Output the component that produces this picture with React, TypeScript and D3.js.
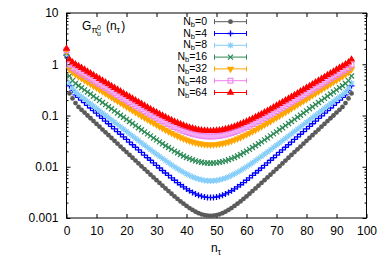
import React, { useEffect, useRef } from "react";
import * as d3 from "d3";

// n_tau index, 0..95
const nTau = d3.range(0, 96);

const nbLabels = ["0", "4", "8", "16", "32", "48", "64"];
const seriesColors = ["#5a5a5a", "#0000ff", "#87cefa", "#2e8b57", "#ffa500", "#ee82ee", "#ff0000"];
const seriesMarkers = ["circle", "plus", "star", "cross", "triDown", "squareOpen", "triUp"];

const gNb0 = [
  1.40, 0.27, 0.215, 0.175, 0.147, 0.129, 0.114, 0.100, 0.0884, 0.0779,
  0.0686, 0.0604, 0.0532, 0.0469, 0.0413, 0.0364, 0.0320, 0.0282, 0.0248, 0.0219,
  0.0193, 0.0170, 0.0150, 0.0132, 0.0116, 0.0102, 0.00902, 0.00796, 0.00702, 0.00619,
  0.00546, 0.00483, 0.00427, 0.00378, 0.00335, 0.00297, 0.00264, 0.00236, 0.00211, 0.00190,
  0.00172, 0.00156, 0.00144, 0.00133, 0.00124, 0.00118, 0.00114, 0.00111, 0.00110,
  0.00111, 0.00114, 0.00118, 0.00124, 0.00133, 0.00144, 0.00156, 0.00172, 0.00190, 0.00211,
  0.00236, 0.00264, 0.00297, 0.00335, 0.00378, 0.00427, 0.00483, 0.00546, 0.00619, 0.00702,
  0.00796, 0.00902, 0.0102, 0.0116, 0.0132, 0.0150, 0.0170, 0.0193, 0.0219, 0.0248,
  0.0282, 0.0320, 0.0364, 0.0413, 0.0469, 0.0532, 0.0604, 0.0686, 0.0779, 0.0884,
  0.100, 0.114, 0.129, 0.147, 0.175, 0.215, 0.27,
];
const gNb4 = [
  1.50, 0.38, 0.31, 0.253, 0.225, 0.200, 0.178, 0.158, 0.140, 0.125,
  0.111, 0.0984, 0.0875, 0.0778, 0.0691, 0.0614, 0.0546, 0.0485, 0.0431, 0.0383,
  0.0341, 0.0303, 0.0269, 0.0240, 0.0213, 0.0190, 0.0169, 0.0150, 0.0134, 0.0119,
  0.0106, 0.00946, 0.00845, 0.00755, 0.00676, 0.00607, 0.00545, 0.00492, 0.00445, 0.00405,
  0.00370, 0.00340, 0.00315, 0.00295, 0.00278, 0.00266, 0.00257, 0.00252, 0.00250,
  0.00252, 0.00257, 0.00266, 0.00278, 0.00295, 0.00315, 0.00340, 0.00370, 0.00405, 0.00445,
  0.00492, 0.00545, 0.00607, 0.00676, 0.00755, 0.00845, 0.00946, 0.0106, 0.0119, 0.0134,
  0.0150, 0.0169, 0.0190, 0.0213, 0.0240, 0.0269, 0.0303, 0.0341, 0.0383, 0.0431,
  0.0485, 0.0546, 0.0614, 0.0691, 0.0778, 0.0875, 0.0984, 0.111, 0.125, 0.140,
  0.158, 0.178, 0.200, 0.225, 0.253, 0.31, 0.38,
];
const gNb8 = [
  1.58, 0.43, 0.34, 0.286, 0.257, 0.232, 0.209, 0.188, 0.170, 0.153,
  0.138, 0.124, 0.112, 0.101, 0.0911, 0.0821, 0.0740, 0.0667, 0.0602, 0.0542,
  0.0489, 0.0441, 0.0398, 0.0359, 0.0324, 0.0292, 0.0264, 0.0238, 0.0215, 0.0195,
  0.0176, 0.0160, 0.0145, 0.0132, 0.0120, 0.0109, 0.00999, 0.00916, 0.00843, 0.00780,
  0.00724, 0.00677, 0.00637, 0.00603, 0.00577, 0.00556, 0.00541, 0.00533, 0.00530,
  0.00533, 0.00541, 0.00556, 0.00577, 0.00603, 0.00637, 0.00677, 0.00724, 0.00780, 0.00843,
  0.00916, 0.00999, 0.0109, 0.0120, 0.0132, 0.0145, 0.0160, 0.0176, 0.0195, 0.0215,
  0.0238, 0.0264, 0.0292, 0.0324, 0.0359, 0.0398, 0.0441, 0.0489, 0.0542, 0.0602,
  0.0667, 0.0740, 0.0821, 0.0911, 0.101, 0.112, 0.124, 0.138, 0.153, 0.170,
  0.188, 0.209, 0.232, 0.257, 0.286, 0.34, 0.43,
];
const gNb16 = [
  1.68, 0.59, 0.48, 0.421, 0.382, 0.348, 0.316, 0.288, 0.262, 0.238,
  0.216, 0.197, 0.179, 0.163, 0.148, 0.135, 0.123, 0.112, 0.101, 0.0923,
  0.0841, 0.0765, 0.0697, 0.0634, 0.0578, 0.0527, 0.0480, 0.0438, 0.0400, 0.0365,
  0.0334, 0.0306, 0.0280, 0.0257, 0.0237, 0.0218, 0.0202, 0.0187, 0.0174, 0.0162,
  0.0152, 0.0144, 0.0137, 0.0130, 0.0126, 0.0122, 0.0119, 0.0118, 0.0117,
  0.0118, 0.0119, 0.0122, 0.0126, 0.0130, 0.0137, 0.0144, 0.0152, 0.0162, 0.0174,
  0.0187, 0.0202, 0.0218, 0.0237, 0.0257, 0.0280, 0.0306, 0.0334, 0.0365, 0.0400,
  0.0438, 0.0480, 0.0527, 0.0578, 0.0634, 0.0697, 0.0765, 0.0841, 0.0923, 0.101,
  0.112, 0.123, 0.135, 0.148, 0.163, 0.179, 0.197, 0.216, 0.238, 0.262,
  0.288, 0.316, 0.348, 0.382, 0.421, 0.48, 0.59,
];
const gNb32 = [
  1.78, 0.80, 0.70, 0.633, 0.581, 0.534, 0.490, 0.450, 0.413, 0.379,
  0.348, 0.320, 0.294, 0.270, 0.248, 0.228, 0.209, 0.192, 0.177, 0.162,
  0.149, 0.137, 0.126, 0.116, 0.107, 0.0984, 0.0906, 0.0835, 0.0771, 0.0712,
  0.0658, 0.0609, 0.0565, 0.0524, 0.0488, 0.0455, 0.0425, 0.0398, 0.0375, 0.0354,
  0.0336, 0.0320, 0.0306, 0.0295, 0.0286, 0.0279, 0.0274, 0.0271, 0.0270,
  0.0271, 0.0274, 0.0279, 0.0286, 0.0295, 0.0306, 0.0320, 0.0336, 0.0354, 0.0375,
  0.0398, 0.0425, 0.0455, 0.0488, 0.0524, 0.0565, 0.0609, 0.0658, 0.0712, 0.0771,
  0.0835, 0.0906, 0.0984, 0.107, 0.116, 0.126, 0.137, 0.149, 0.162, 0.177,
  0.192, 0.209, 0.228, 0.248, 0.270, 0.294, 0.320, 0.348, 0.379, 0.413,
  0.450, 0.490, 0.534, 0.581, 0.633, 0.70, 0.80,
];
const gNb48 = [
  1.88, 0.98, 0.848, 0.781, 0.720, 0.663, 0.611, 0.563, 0.519, 0.478,
  0.441, 0.406, 0.374, 0.345, 0.318, 0.293, 0.270, 0.249, 0.230, 0.212,
  0.196, 0.181, 0.167, 0.154, 0.142, 0.132, 0.122, 0.113, 0.104, 0.0967,
  0.0898, 0.0834, 0.0777, 0.0724, 0.0677, 0.0633, 0.0595, 0.0560, 0.0529, 0.0501,
  0.0477, 0.0456, 0.0438, 0.0423, 0.0411, 0.0402, 0.0395, 0.0391, 0.0390,
  0.0391, 0.0395, 0.0402, 0.0411, 0.0423, 0.0438, 0.0456, 0.0477, 0.0501, 0.0529,
  0.0560, 0.0595, 0.0633, 0.0677, 0.0724, 0.0777, 0.0834, 0.0898, 0.0967, 0.104,
  0.113, 0.122, 0.132, 0.142, 0.154, 0.167, 0.181, 0.196, 0.212, 0.230,
  0.249, 0.270, 0.293, 0.318, 0.345, 0.374, 0.406, 0.441, 0.478, 0.519,
  0.563, 0.611, 0.663, 0.720, 0.781, 0.848, 0.98,
];
const gNb64 = [
  2.02, 1.24, 1.09, 1.00, 0.923, 0.850, 0.784, 0.722, 0.665, 0.613,
  0.565, 0.521, 0.480, 0.442, 0.408, 0.376, 0.347, 0.320, 0.295, 0.272,
  0.251, 0.232, 0.214, 0.197, 0.182, 0.169, 0.156, 0.144, 0.134, 0.124,
  0.115, 0.107, 0.0996, 0.0928, 0.0867, 0.0812, 0.0762, 0.0718, 0.0678, 0.0643,
  0.0612, 0.0585, 0.0562, 0.0543, 0.0527, 0.0515, 0.0507, 0.0502, 0.0500,
  0.0502, 0.0507, 0.0515, 0.0527, 0.0543, 0.0562, 0.0585, 0.0612, 0.0643, 0.0678,
  0.0718, 0.0762, 0.0812, 0.0867, 0.0928, 0.0996, 0.107, 0.115, 0.124, 0.134,
  0.144, 0.156, 0.169, 0.182, 0.197, 0.214, 0.232, 0.251, 0.272, 0.295,
  0.320, 0.347, 0.376, 0.408, 0.442, 0.480, 0.521, 0.565, 0.613, 0.665,
  0.722, 0.784, 0.850, 0.923, 1.00, 1.09, 1.24,
];
const allSeries = [gNb0, gNb4, gNb8, gNb16, gNb32, gNb48, gNb64];

const xTicks = [0, 10, 20, 30, 40, 50, 60, 70, 80, 90, 100];
const yTicks = [0.001, 0.01, 0.1, 1, 10];
const yTickLabels = ["0.001", "0.01", "0.1", "1", "10"];

const FONT = "'Liberation Sans', Arial, sans-serif";

// draw one gnuplot-like point symbol into g
function drawMarker(g: d3.Selection<SVGGElement, unknown, null, undefined>, type: string, color: string) {
  if (type === "circle") {
    g.append("circle").attr("r", 2.4).attr("fill", color);
  } else if (type === "plus") {
    g.append("path").attr("d", "M-3,0H3M0,-3V3").attr("stroke", color).attr("stroke-width", 1.3);
  } else if (type === "cross") {
    g.append("path").attr("d", "M-2.5,-2.5L2.5,2.5M-2.5,2.5L2.5,-2.5").attr("stroke", color).attr("stroke-width", 1.3);
  } else if (type === "star") {
    g.append("path")
      .attr("d", "M-3,0H3M0,-3V3M-2.2,-2.2L2.2,2.2M-2.2,2.2L2.2,-2.2")
      .attr("stroke", color)
      .attr("stroke-width", 1.1);
  } else if (type === "triUp") {
    g.append("path").attr("d", d3.symbol(d3.symbolTriangle, 24)()).attr("fill", color);
  } else if (type === "triDown") {
    g.append("path").attr("d", d3.symbol(d3.symbolTriangle, 24)()).attr("transform", "rotate(180)").attr("fill", color);
  } else if (type === "squareOpen") {
    g.append("rect").attr("x", -2.4).attr("y", -2.4).attr("width", 4.8).attr("height", 4.8)
      .attr("fill", "none").attr("stroke", color).attr("stroke-width", 1.1);
  }
}

export default function App() {
  const ref = useRef<SVGSVGElement | null>(null);

  useEffect(() => {
    if (!ref.current) return;
    const svg = d3.select(ref.current);
    svg.selectAll("*").remove();

    const left = 66.5, right = 366.5, top = 13, bottom = 218;
    const x = d3.scaleLinear([0, 100], [left, right]);
    const y = d3.scaleLog([0.001, 10], [bottom, top]);

    // minor log ticks
    const minor: number[] = [];
    for (let e = -3; e < 1; e++) for (let m = 2; m < 10; m++) minor.push(m * Math.pow(10, e));

    const axes = svg.append("g").attr("font-family", FONT);

    const xAxis = d3.axisBottom(x).tickValues(xTicks).tickSize(-4).tickPadding(8.5).tickFormat(d3.format("d"));
    axes.append("g").attr("transform", `translate(0,${bottom})`).call(xAxis);
    axes.append("g").attr("transform", `translate(0,${top})`)
      .call(d3.axisTop(x).tickValues(xTicks).tickSize(-4).tickFormat(() => ""));

    const yAxis = d3.axisLeft(y).tickValues(yTicks).tickSize(-4).tickPadding(8)
      .tickFormat((d, i) => yTickLabels[i]);
    axes.append("g").attr("transform", `translate(${left},0)`).call(yAxis);
    axes.append("g").attr("transform", `translate(${left},0)`)
      .call(d3.axisLeft(y).tickValues(minor).tickSize(-2).tickFormat(() => ""));
    axes.append("g").attr("transform", `translate(${right},0)`)
      .call(d3.axisRight(y).tickValues(yTicks).tickSize(-4).tickFormat(() => ""));
    axes.append("g").attr("transform", `translate(${right},0)`)
      .call(d3.axisRight(y).tickValues(minor).tickSize(-2).tickFormat(() => ""));

    axes.selectAll(".domain").remove();
    axes.selectAll("text").attr("font-size", 12).attr("fill", "#000");
    axes.selectAll(".tick line").attr("stroke", "#000");

    svg.append("rect")
      .attr("x", left).attr("y", top)
      .attr("width", right - left).attr("height", bottom - top)
      .attr("fill", "none").attr("stroke", "#000").attr("stroke-width", 1);

    // data points
    allSeries.forEach((vals, si) => {
      const layer = svg.append("g");
      vals.forEach((v, i) => {
        const g = layer.append("g").attr("transform", `translate(${x(nTau[i])},${y(v)})`);
        drawMarker(g, seriesMarkers[si], seriesColors[si]);
      });
    });

    // legend
    const legend = svg.append("g").attr("font-family", FONT).attr("font-size", 10.5);
    nbLabels.forEach((lab, i) => {
      const cy = 21.7 + i * 11.8;
      const t = legend.append("text").attr("x", 207).attr("y", cy + 3).attr("text-anchor", "end");
      t.append("tspan").text("N");
      t.append("tspan").attr("font-size", 7.5).attr("dy", 2).text("b");
      t.append("tspan").attr("dy", -2).text("=" + lab);
      const c = seriesColors[i];
      legend.append("path")
        .attr("d", `M214.5,${cy}H246.5M214.5,${cy - 2.5}V${cy + 2.5}M246.5,${cy - 2.5}V${cy + 2.5}`)
        .attr("stroke", c).attr("stroke-width", 1);
      const mg = legend.append("g").attr("transform", `translate(230.5,${cy})`);
      drawMarker(mg, seriesMarkers[i], c);
    });

    // title G_{pi_u^0}(n_tau)
    const title = svg.append("g").attr("font-family", FONT).attr("fill", "#000");
    title.append("text").attr("x", 82).attr("y", 30).attr("font-size", 12).text("G");
    title.append("text").attr("x", 91.5).attr("y", 33).attr("font-size", 9).text("π");
    title.append("text").attr("x", 97).attr("y", 36).attr("font-size", 7).text("u");
    title.append("text").attr("x", 97).attr("y", 30).attr("font-size", 7).text("0");
    title.append("text").attr("x", 106).attr("y", 30).attr("font-size", 12).text("(n");
    title.append("text").attr("x", 116.6).attr("y", 33).attr("font-size", 9).text("τ");
    title.append("text").attr("x", 121.2).attr("y", 30).attr("font-size", 12).text(")");

    // x label n_tau
    const xl = svg.append("g").attr("font-family", FONT).attr("fill", "#000");
    xl.append("text").attr("x", 211).attr("y", 252).attr("font-size", 12).text("n");
    xl.append("text").attr("x", 217.6).attr("y", 255).attr("font-size", 9).text("τ");
  });

  return (
    <svg
      ref={ref}
      width={390}
      height={273}
      style={{ position: "absolute", left: 0, top: 0, background: "#fff" }}
    />
  );
}
